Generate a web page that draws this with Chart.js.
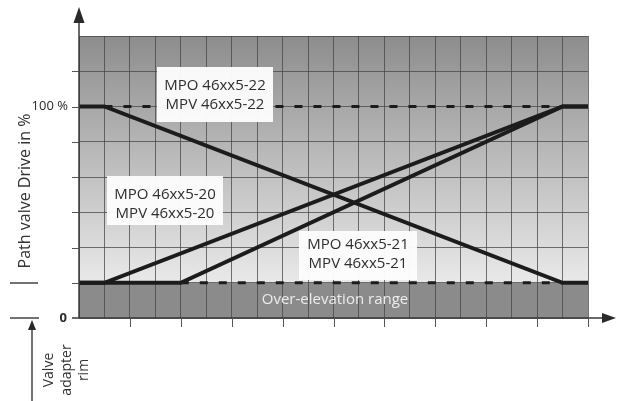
<!DOCTYPE html>
<html>
<head>
<meta charset="utf-8">
<style>
  html, body { margin: 0; padding: 0; background: #fff; }
  canvas { display: block; }
</style>
</head>
<body>
<canvas id="driveChart" width="617" height="401"></canvas>
<script src="https://cdn.jsdelivr.net/npm/chart.js"></script>
<script>
    // stroke positions along the grid (x in grid columns, y in grid rows)
    const strokeX = [0, 1, 19, 20];
    const mpo22Y = [6, 6, 1, 1];
    const mpo20Y = [1, 1, 6, 6];
    const mpo21X = [0, 4, 19, 20];
    const mpo21Y = [1, 1, 6, 6];
    const dashTopX = [1, 19];
    const dashTopY = [6, 6];
    const dashLowX = [4, 19];
    const dashLowY = [1, 1];

    const yTickLabels = { 6: '100 %', 0: '0' };
    const boxLabels = [
        ['MPO 46xx5-22', 'MPV 46xx5-22'],
        ['MPO 46xx5-20', 'MPV 46xx5-20'],
        ['MPO 46xx5-21', 'MPV 46xx5-21']
    ];
    const rangeLabel = 'Over-elevation range';
    const yTitle = 'Path valve Drive in %';
    const rimLabel = ['Valve', 'adapter', 'rim'];

    function pts(xs, ys) {
        return xs.map((x, i) => ({ x: x, y: ys[i] }));
    }

    const FONT = '"Open Sans", "DejaVu Sans", sans-serif';
    const INK = '#1c1c1c';

    const solid = { borderColor: INK, borderWidth: 4, pointRadius: 0, tension: 0, fill: false, borderJoinStyle: 'miter' };
    const dashed = { borderColor: INK, borderWidth: 3, pointRadius: 0, tension: 0, fill: false, borderDash: [8, 11] };

    const backdrop = {
        id: 'backdrop',
        beforeDraw(chart) {
            const { ctx, chartArea: a, scales: { y } } = chart;
            const y1 = y.getPixelForValue(1);
            const g = ctx.createLinearGradient(0, a.top, 0, y1);
            g.addColorStop(0, '#8d8d8d');
            g.addColorStop(1, '#e9e9e9');
            ctx.save();
            ctx.fillStyle = g;
            ctx.fillRect(a.left, a.top, a.right - a.left, y1 - a.top);
            ctx.fillStyle = '#8b8b8b';
            ctx.fillRect(a.left, y1, a.right - a.left, a.bottom - y1);
            ctx.restore();
        }
    };

    const decor = {
        id: 'decor',
        afterDatasetsDraw(chart) {
            const { ctx, chartArea: a, scales: { x, y } } = chart;
            const x0 = x.getPixelForValue(0);
            const y0 = y.getPixelForValue(0);
            ctx.save();

            // label boxes
            const boxes = [
                { l: 157, t: 67, r: 273, b: 122, ly: [86, 105] },
                { l: 107, t: 176, r: 223, b: 225, ly: [195, 214] },
                { l: 299, t: 231, r: 417, b: 280, ly: [245, 264] }
            ];
            ctx.font = '15px ' + FONT;
            ctx.textAlign = 'center';
            ctx.textBaseline = 'middle';
            boxes.forEach((bx, i) => {
                ctx.fillStyle = 'rgba(252,252,252,0.97)';
                ctx.fillRect(bx.l, bx.t, bx.r - bx.l, bx.b - bx.t);
                ctx.fillStyle = '#2e2e2e';
                boxLabels[i].forEach((s, j) => ctx.fillText(s, (bx.l + bx.r) / 2, bx.ly[j]));
            });

            // over-elevation label
            ctx.fillStyle = '#ececec';
            ctx.fillText(rangeLabel, 335, 300);

            // axes
            ctx.strokeStyle = '#3a3a3a';
            ctx.fillStyle = '#2a2a2a';
            ctx.lineWidth = 1.5;
            ctx.beginPath();
            ctx.moveTo(x0, y0);
            ctx.lineTo(x0, 14);
            ctx.moveTo(72, y0);
            ctx.lineTo(609, y0);
            ctx.stroke();
            ctx.beginPath();
            ctx.moveTo(x0, 7);
            ctx.lineTo(x0 - 5.5, 23);
            ctx.lineTo(x0 + 5.5, 23);
            ctx.closePath();
            ctx.fill();
            ctx.beginPath();
            ctx.moveTo(616, y0);
            ctx.lineTo(602, y0 - 5);
            ctx.lineTo(602, y0 + 5);
            ctx.closePath();
            ctx.fill();

            // tick marks
            ctx.lineWidth = 1;
            ctx.strokeStyle = '#555';
            ctx.beginPath();
            for (let v = 1; v <= 7; v++) {
                const py = Math.round(y.getPixelForValue(v)) + 0.5;
                ctx.moveTo(72, py);
                ctx.lineTo(x0, py);
            }
            for (let c = 2; c <= 20; c += 2) {
                const px = Math.round(x.getPixelForValue(c)) + 0.5;
                ctx.moveTo(px, y0);
                ctx.lineTo(px, y0 + 9);
            }
            ctx.stroke();

            // y tick labels
            ctx.fillStyle = '#2a2a2a';
            ctx.textAlign = 'right';
            ctx.font = '13px ' + FONT;
            ctx.fillText(yTickLabels[6], 68, y.getPixelForValue(6));
            ctx.font = 'bold 13px ' + FONT;
            ctx.fillText(yTickLabels[0], 67, y0);

            // y title
            ctx.font = '16px ' + FONT;
            ctx.fillStyle = '#333';
            ctx.textAlign = 'center';
            ctx.save();
            ctx.translate(25, 191);
            ctx.rotate(-Math.PI / 2);
            ctx.fillText(yTitle, 0, 0);
            ctx.restore();

            // dimension marks at left
            ctx.strokeStyle = '#444';
            ctx.lineWidth = 1.5;
            ctx.beginPath();
            ctx.moveTo(10, 283);
            ctx.lineTo(38, 283);
            ctx.moveTo(10, y0);
            ctx.lineTo(39, y0);
            ctx.moveTo(32, 330);
            ctx.lineTo(32, 401);
            ctx.stroke();
            ctx.fillStyle = '#2a2a2a';
            ctx.beginPath();
            ctx.moveTo(32, y0 + 2);
            ctx.lineTo(28, y0 + 12);
            ctx.lineTo(36, y0 + 12);
            ctx.closePath();
            ctx.fill();

            ctx.font = '14px ' + FONT;
            ctx.fillStyle = '#333';
            const rimX = [49, 67, 84];
            rimLabel.forEach((s, i) => {
                ctx.save();
                ctx.translate(rimX[i], 370);
                ctx.rotate(-Math.PI / 2);
                ctx.fillText(s, 0, 0);
                ctx.restore();
            });

            ctx.restore();
        }
    };

    const hideScale = s => { s.width = 0; s.height = 0; };
    const grid = { color: 'rgba(70,70,70,0.75)', lineWidth: 1, drawTicks: false };

    new Chart(document.getElementById('driveChart'), {
        type: 'line',
        data: {
            datasets: [
                Object.assign({ data: pts(dashTopX, dashTopY) }, dashed),
                Object.assign({ data: pts(dashLowX, dashLowY) }, dashed),
                Object.assign({ data: pts(strokeX, mpo22Y) }, solid),
                Object.assign({ data: pts(strokeX, mpo20Y) }, solid),
                Object.assign({ data: pts(mpo21X, mpo21Y) }, solid)
            ]
        },
        options: {
            responsive: false,
            animation: false,
            layout: { padding: { left: 79, right: 29, top: 36, bottom: 83 } },
            scales: {
                x: {
                    type: 'linear', min: 0, max: 20,
                    ticks: { display: false, stepSize: 1 },
                    grid: grid, border: { display: false },
                    afterFit: hideScale
                },
                y: {
                    type: 'linear', min: 0, max: 8,
                    ticks: { display: false, stepSize: 1 },
                    grid: grid, border: { display: false },
                    afterFit: hideScale
                }
            },
            plugins: {
                legend: { display: false },
                tooltip: { enabled: false }
            }
        },
        plugins: [backdrop, decor]
    });
</script>
</body>
</html>
